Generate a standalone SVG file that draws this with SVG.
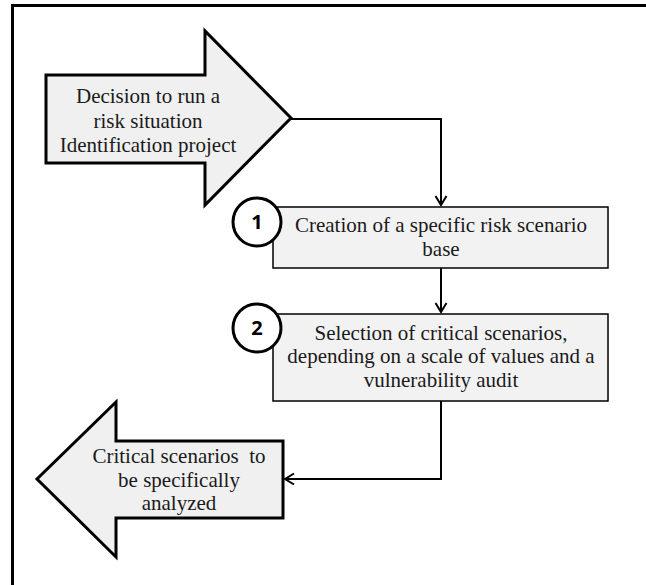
<svg xmlns="http://www.w3.org/2000/svg" width="646" height="585" viewBox="0 0 646 585">
  <defs>
    <marker id="open-arrow" markerWidth="14" markerHeight="14" refX="11" refY="7" orient="auto" markerUnits="userSpaceOnUse">
      <path d="M2,1.5 L11,7 L2,12.5" fill="none" stroke="#000" stroke-width="2"/>
    </marker>
  </defs>
  <style>
    .frame { fill: none; stroke: #000; stroke-width: 3; }
    .big-arrow { fill: #f0f0f0; stroke: #000; stroke-width: 3; stroke-linejoin: miter; }
    .step { fill: #f2f2f2; stroke: #000; stroke-width: 1.5; }
    .badge { fill: #fff; stroke: #000; stroke-width: 3; }
    .badge-num { font-family: 'Open Sans', 'Liberation Sans', sans-serif; font-weight: bold; font-size: 20px; text-anchor: middle; fill: #000; }
    .label { font-family: 'Liberation Serif', 'Times New Roman', serif; font-size: 21px; text-anchor: middle; fill: #1a1a1a; }
    .link { fill: none; stroke: #000; stroke-width: 2; }
  </style>

  <rect width="646" height="585" fill="#fff"/>
  <!-- open frame: top and left edges only -->
  <path class="frame" d="M12.5,585 L12.5,5.5 L646,5.5"/>

  <g id="connectors">
    <path class="link" d="M291,119 L441,119 L441,205" marker-end="url(#open-arrow)"/>
    <path class="link" d="M441,268 L441,312" marker-end="url(#open-arrow)"/>
    <path class="link" d="M441,401 L441,479 L285,479" marker-end="url(#open-arrow)"/>
  </g>

  <g id="start">
    <path class="big-arrow" d="M46,75 L205,75 L205,31 L291,118 L205,205 L205,163 L46,163 Z"/>
    <text class="label" x="148" y="103">Decision to run a</text>
    <text class="label" x="148" y="128">risk situation</text>
    <text class="label" x="148" y="152">Identification project</text>
  </g>

  <g id="step1">
    <rect class="step" x="273" y="207" width="335" height="61"/>
    <text class="label" x="441" y="232">Creation of a specific risk scenario</text>
    <text class="label" x="441" y="256">base</text>
    <circle class="badge" cx="257" cy="222" r="24"/>
    <text class="badge-num" x="257" y="229">1</text>
  </g>

  <g id="step2">
    <rect class="step" x="273" y="314" width="335" height="87"/>
    <text class="label" x="441" y="340">Selection of critical scenarios,</text>
    <text class="label" x="441" y="363">depending on a scale of values and a</text>
    <text class="label" x="441" y="387">vulnerability audit</text>
    <circle class="badge" cx="257" cy="328" r="24"/>
    <text class="badge-num" x="257" y="335">2</text>
  </g>

  <g id="end">
    <path class="big-arrow" d="M283,441 L283,518 L116,518 L116,557 L37,479 L116,402 L116,441 Z"/>
    <text class="label" x="179" y="463" xml:space="preserve">Critical scenarios  to</text>
    <text class="label" x="179" y="487">be specifically</text>
    <text class="label" x="179" y="510">analyzed</text>
  </g>
</svg>
